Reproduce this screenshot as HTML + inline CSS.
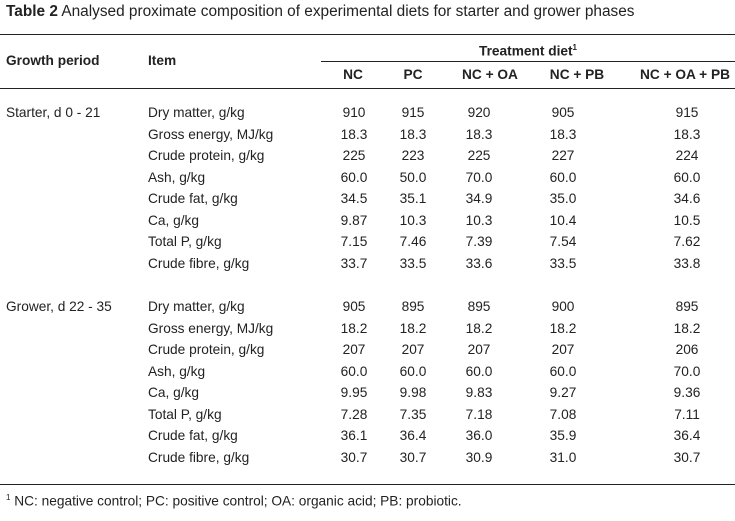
<!DOCTYPE html>
<html><head><meta charset="utf-8">
<style>
body{margin:0;width:735px;height:521px;background:#fff;font-family:"Liberation Sans",Arial,sans-serif;color:#222;position:relative;overflow:hidden}
.t{position:absolute;font-size:13.7px;line-height:16px;white-space:nowrap}
.b{font-weight:bold}
.c{transform:translateX(-50%)}
.rule{position:absolute;height:1px;background:#222}
sup{font-size:8px}
</style></head><body>
<div class="t" style="left:6px;top:4px;font-size:15.4px"><b>Table 2</b> Analysed proximate composition of experimental diets for starter and grower phases</div>
<div class="rule" style="left:0;top:34px;width:735px"></div>
<div class="t b c" style="left:528px;top:40px">Treatment diet<sup>1</sup></div>
<div class="rule" style="left:321px;top:61px;width:414px"></div>
<div class="t b" style="left:6px;top:53px">Growth period</div>
<div class="t b" style="left:148px;top:53px">Item</div>
<div id="hdr"></div>
<div class="rule" style="left:0;top:88px;width:735px"></div>
<div id="body"></div>
<div class="rule" style="left:0;top:484px;width:735px"></div>
<div class="t" style="left:6px;top:490px"><sup>1</sup> NC: negative control; PC: positive control; OA: organic acid; PB: probiotic.</div>
<script>
const columns=["NC","PC","NC + OA","NC + PB","NC + OA + PB"];
const starterItems=["Dry matter, g/kg","Gross energy, MJ/kg","Crude protein, g/kg","Ash, g/kg","Crude fat, g/kg","Ca, g/kg","Total P, g/kg","Crude fibre, g/kg"];
const starterValues=[["910","915","920","905","915"],["18.3","18.3","18.3","18.3","18.3"],["225","223","225","227","224"],["60.0","50.0","70.0","60.0","60.0"],["34.5","35.1","34.9","35.0","34.6"],["9.87","10.3","10.3","10.4","10.5"],["7.15","7.46","7.39","7.54","7.62"],["33.7","33.5","33.6","33.5","33.8"]];
const growerItems=["Dry matter, g/kg","Gross energy, MJ/kg","Crude protein, g/kg","Ash, g/kg","Ca, g/kg","Total P, g/kg","Crude fat, g/kg","Crude fibre, g/kg"];
const growerValues=[["905","895","895","900","895"],["18.2","18.2","18.2","18.2","18.2"],["207","207","207","207","206"],["60.0","60.0","60.0","60.0","70.0"],["9.95","9.98","9.83","9.27","9.36"],["7.28","7.35","7.18","7.08","7.11"],["36.1","36.4","36.0","35.9","36.4"],["30.7","30.7","30.9","31.0","30.7"]];
const hdrX=[353,413,490,577,685];
const colX=[354,413,479,563,687];
function mk(parent,cls,text,left,top){const d=document.createElement('div');d.className=cls;d.textContent=text;d.style.left=left+'px';d.style.top=top+'px';parent.appendChild(d);return d;}
const hdr=document.getElementById('hdr');
columns.forEach((c,i)=>{const d=mk(hdr,'t b c',c,hdrX[i],67);

});
const body=document.getElementById('body');
function group(label,items,vals,y0,key){
 const g=mk(body,'t',label,6,y0-8);
 
 
 items.forEach((it,r)=>{const y=y0+r*21.5-8;
  const d=mk(body,'t',it,148,y);
  
  
  vals[r].forEach((v,c)=>{const e=mk(body,'t c',v,colX[c],y);
   
   });});
}
group("Starter, d 0 - 21",starterItems,starterValues,113,'starter');
group("Grower, d 22 - 35",growerItems,growerValues,307,'grower');
</script>
</body></html>
